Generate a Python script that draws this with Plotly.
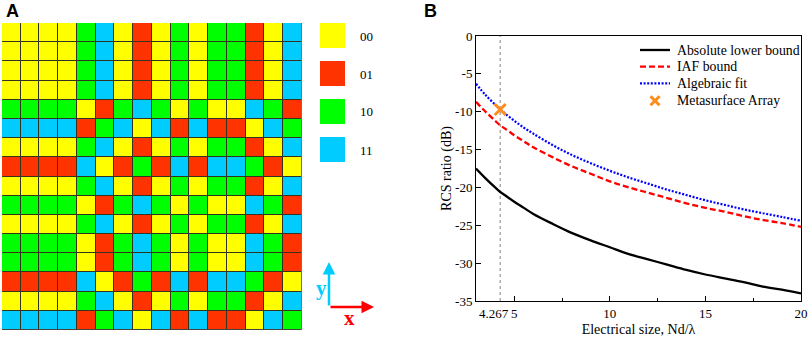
import plotly.graph_objects as go

W, H = 809, 337

# ---------------- Panel A data ----------------
code_names = ["00", "01", "10", "11"]
code_colors = ["#FFFF00", "#FF3300", "#00FF00", "#00CCFF"]
code_letters = "YRGC"
grid_rows = [
    "YYYYGCYRYGYGGRYC",
    "YYYYGCYRYGYGGRYC",
    "YYYYGCYRYGYGGRYC",
    "YYYYGCYRYGYGGRYC",
    "GGGGYRGCGYGYYCGR",
    "CCCCRGCYCRCRRYCG",
    "YYYYGCYRYGYGGRYC",
    "RRRRCYRGRCRCCGRY",
    "YYYYGCYRYGYGGRYC",
    "GGGGYRGCGYGYYCGR",
    "YYYYGCYRYGYGGRYC",
    "GGGGYRGCGYGYYCGR",
    "GGGGYRGCGYGYYCGR",
    "RRRRCYRGRCRCCGRY",
    "YYYYGCYRYGYGGRYC",
    "CCCCRGCYCRCRRYCG",
]

# ---------------- Panel B data ----------------
size_x = [3, 3.5, 4, 4.267, 4.5, 5, 5.5, 6, 7, 8, 9, 10, 11, 12, 13, 14, 15, 16, 17, 18, 19, 20]
abs_lower = [-17.5, -18.8, -20.0, -20.6, -21.0, -21.9, -22.7, -23.5, -24.8, -26.0, -27.0, -27.9,
             -28.8, -29.5, -30.2, -30.9, -31.5, -32.0, -32.5, -33.1, -33.5, -34.0]
iaf_bound = [-8.7, -10.0, -11.2, -11.8, -12.2, -13.1, -13.9, -14.7, -16.0, -17.2, -18.2, -19.2,
             -20.0, -20.7, -21.4, -22.1, -22.7, -23.2, -23.8, -24.3, -24.7, -25.2]
alg_fit = [-6.3, -7.8, -9.05, -9.66, -10.2, -11.2, -12.1, -12.9, -14.4, -15.7, -16.8, -17.8,
           -18.7, -19.5, -20.3, -21.0, -21.7, -22.3, -22.9, -23.4, -23.9, -24.4]
meta_x = [4.267]
meta_y = [-9.7]
x_ticks = [5, 10, 15, 20]
y_ticks = [0, -5, -10, -15, -20, -25, -30, -35]
series_names = ["Absolute lower bound", "IAF bound", "Algebraic fit", "Metasurface Array"]

SERIF = "Liberation Serif"
SANS = "Liberation Sans"
BLACK, RED, BLUE, ORANGE = "#000000", "#FF0000", "#0000FF", "#FF8C1A"
RED_DASH = "6px,3px"
BLUE_DOT = "2px,1.6px"

def fx(p):
    return p / W

def fy(p):
    return 1 - p / H

z = [[code_letters.index(ch) for ch in row] for row in grid_rows]
n = len(code_colors)
cscale = []
for i, c in enumerate(code_colors):
    cscale.append([i / n, c])
    cscale.append([(i + 1) / n, c])

fig = go.Figure()

fig.add_trace(go.Heatmap(
    z=z, x=list(range(16)), y=list(range(16)),
    colorscale=cscale, zmin=-0.5, zmax=n - 0.5, showscale=False,
    xgap=1, ygap=1, hoverinfo="skip",
    xaxis="x", yaxis="y",
))

# vertical reference line
fig.add_trace(go.Scatter(
    x=[meta_x[0], meta_x[0]], y=[y_ticks[-1], y_ticks[0]], mode="lines",
    line=dict(color="#9a9a9a", width=1.2, dash="dot"), showlegend=False,
    xaxis="x2", yaxis="y2", hoverinfo="skip",
))
fig.add_trace(go.Scatter(
    x=size_x, y=abs_lower, mode="lines", name=series_names[0],
    line=dict(color=BLACK, width=2.3, shape="spline"), xaxis="x2", yaxis="y2",
))
fig.add_trace(go.Scatter(
    x=size_x, y=iaf_bound, mode="lines", name=series_names[1],
    line=dict(color=RED, width=2.3, dash=RED_DASH, shape="spline"), xaxis="x2", yaxis="y2",
))
fig.add_trace(go.Scatter(
    x=size_x, y=alg_fit, mode="lines", name=series_names[2],
    line=dict(color=BLUE, width=2.2, dash=BLUE_DOT, shape="spline"), xaxis="x2", yaxis="y2",
))
fig.add_trace(go.Scatter(
    x=meta_x, y=meta_y, mode="markers", name=series_names[3],
    marker=dict(symbol="x-thin", size=11, line=dict(color=ORANGE, width=3), color=ORANGE),
    xaxis="x2", yaxis="y2",
))

shapes = [
    dict(type="rect", xref="x", yref="y", x0=-0.5, x1=15.5, y0=-0.5, y1=15.5,
         fillcolor="#33331f", line=dict(color="#555555", width=1), layer="below"),
]
annotations = []
# legend squares for panel A
for i, (nm, col) in enumerate(zip(code_names, code_colors)):
    top = 23 + 38 * i
    shapes.append(dict(type="rect", xref="paper", yref="paper",
                       x0=fx(320), x1=fx(345), y0=fy(top + 25), y1=fy(top),
                       fillcolor=col, line=dict(width=0)))
    annotations.append(dict(text=nm, xref="paper", yref="paper", x=fx(358), y=fy(top + 13),
                            xanchor="left", yanchor="middle", showarrow=False,
                            font=dict(family=SERIF, size=13, color="black")))

# manual legend for panel B
leg_rows = [50, 66.7, 83.3, 100.7]
leg_styles = [(BLACK, "solid", 2.3), (RED, RED_DASH, 2.3), (BLUE, BLUE_DOT, 2.2)]
for i, (col, dash, wd) in enumerate(leg_styles):
    shapes.append(dict(type="line", xref="paper", yref="paper",
                       x0=fx(640), x1=fx(670), y0=fy(leg_rows[i]), y1=fy(leg_rows[i]),
                       line=dict(color=col, width=wd, dash=dash)))
xc, yc = 655, leg_rows[3]
for sgn in (1, -1):
    shapes.append(dict(type="line", xref="paper", yref="paper",
                       x0=fx(xc - 4.5), x1=fx(xc + 4.5), y0=fy(yc - 4.5 * sgn), y1=fy(yc + 4.5 * sgn),
                       line=dict(color=ORANGE, width=3)))
for i, nm in enumerate(series_names):
    annotations.append(dict(text=nm, xref="paper", yref="paper", x=fx(675), y=fy(leg_rows[i]),
                            xanchor="left", yanchor="middle", showarrow=False,
                            font=dict(family=SERIF, size=13.8, color="black")))

# axis arrows
annotations.append(dict(x=fx(329), y=fy(262), xref="paper", yref="paper", ax=0, ay=45,
                        axref="pixel", ayref="pixel", text="", showarrow=True,
                        arrowhead=2, arrowsize=1, arrowwidth=2.5, arrowcolor="#00CCFF"))
annotations.append(dict(x=fx(374), y=fy(307), xref="paper", yref="paper", ax=-45, ay=0,
                        axref="pixel", ayref="pixel", text="", showarrow=True,
                        arrowhead=2, arrowsize=1, arrowwidth=2.5, arrowcolor="#FF0000"))
annotations.append(dict(text="<b>y</b>", x=fx(321), y=fy(288), xref="paper", yref="paper",
                        xanchor="center", yanchor="middle",
                        showarrow=False, font=dict(family=SERIF, size=21, color="#00CCFF")))
annotations.append(dict(text="<b>x</b>", x=fx(349), y=fy(318), xref="paper", yref="paper",
                        xanchor="center", yanchor="middle",
                        showarrow=False, font=dict(family=SERIF, size=21, color="#FF0000")))
# panel labels
annotations.append(dict(text="<b>A</b>", x=fx(12.5), y=fy(10.5), xref="paper", yref="paper",
                        xanchor="center", yanchor="middle",
                        showarrow=False, font=dict(family=SANS, size=18, color="black")))
annotations.append(dict(text="<b>B</b>", x=fx(430), y=fy(10.5), xref="paper", yref="paper",
                        xanchor="center", yanchor="middle",
                        showarrow=False, font=dict(family=SANS, size=18, color="black")))
# 4.267 label
annotations.append(dict(text=str(meta_x[0]), x=meta_x[0], xref="x2", y=fy(313), yref="paper",
                        xshift=-6, showarrow=False, xanchor="center", yanchor="middle",
                        font=dict(family=SERIF, size=13, color="black")))

fig.update_layout(
    width=W, height=H, margin=dict(l=0, r=0, t=0, b=0, autoexpand=False),
    paper_bgcolor="white", plot_bgcolor="white",
    showlegend=False,
    xaxis=dict(domain=[fx(2), fx(301.7)], range=[-0.5, 15.5], visible=False, fixedrange=True),
    yaxis=dict(domain=[fy(330), fy(23)], range=[15.5, -0.5], visible=False, fixedrange=True),
    xaxis2=dict(domain=[fx(476), fx(801)], range=[3, 20], anchor="y2",
                tickvals=x_ticks, ticktext=[str(v) for v in x_ticks],
                ticks="inside", ticklen=5, tickwidth=1, tickcolor="black",
                minor=dict(tickmode="linear", tick0=0, dtick=2.5, ticks="inside", ticklen=3,
                           tickcolor="black"),
                showline=True, linecolor="black", linewidth=1, mirror=True,
                showgrid=False, zeroline=False, automargin=False,
                tickfont=dict(family=SERIF, size=13, color="black"),
                title=dict(text="Electrical size, Nd/λ", standoff=4,
                           font=dict(family=SERIF, size=14, color="black"))),
    yaxis2=dict(domain=[fy(301), fy(36)], range=[-35, 0], anchor="x2",
                tickvals=y_ticks, ticktext=[str(v) for v in y_ticks],
                ticks="inside", ticklen=5, tickwidth=1, tickcolor="black",
                showline=True, linecolor="black", linewidth=1, mirror=True,
                showgrid=False, zeroline=False, automargin=False,
                tickfont=dict(family=SERIF, size=13, color="black"),
                title=dict(text="RCS ratio (dB)", standoff=0,
                           font=dict(family=SERIF, size=14, color="black"))),
    shapes=shapes, annotations=annotations,
)

fig.write_html(
    "out.html",
    config={"displayModeBar": False},
    post_script="document.body.style.margin='0';document.body.style.overflow='hidden';",
)
